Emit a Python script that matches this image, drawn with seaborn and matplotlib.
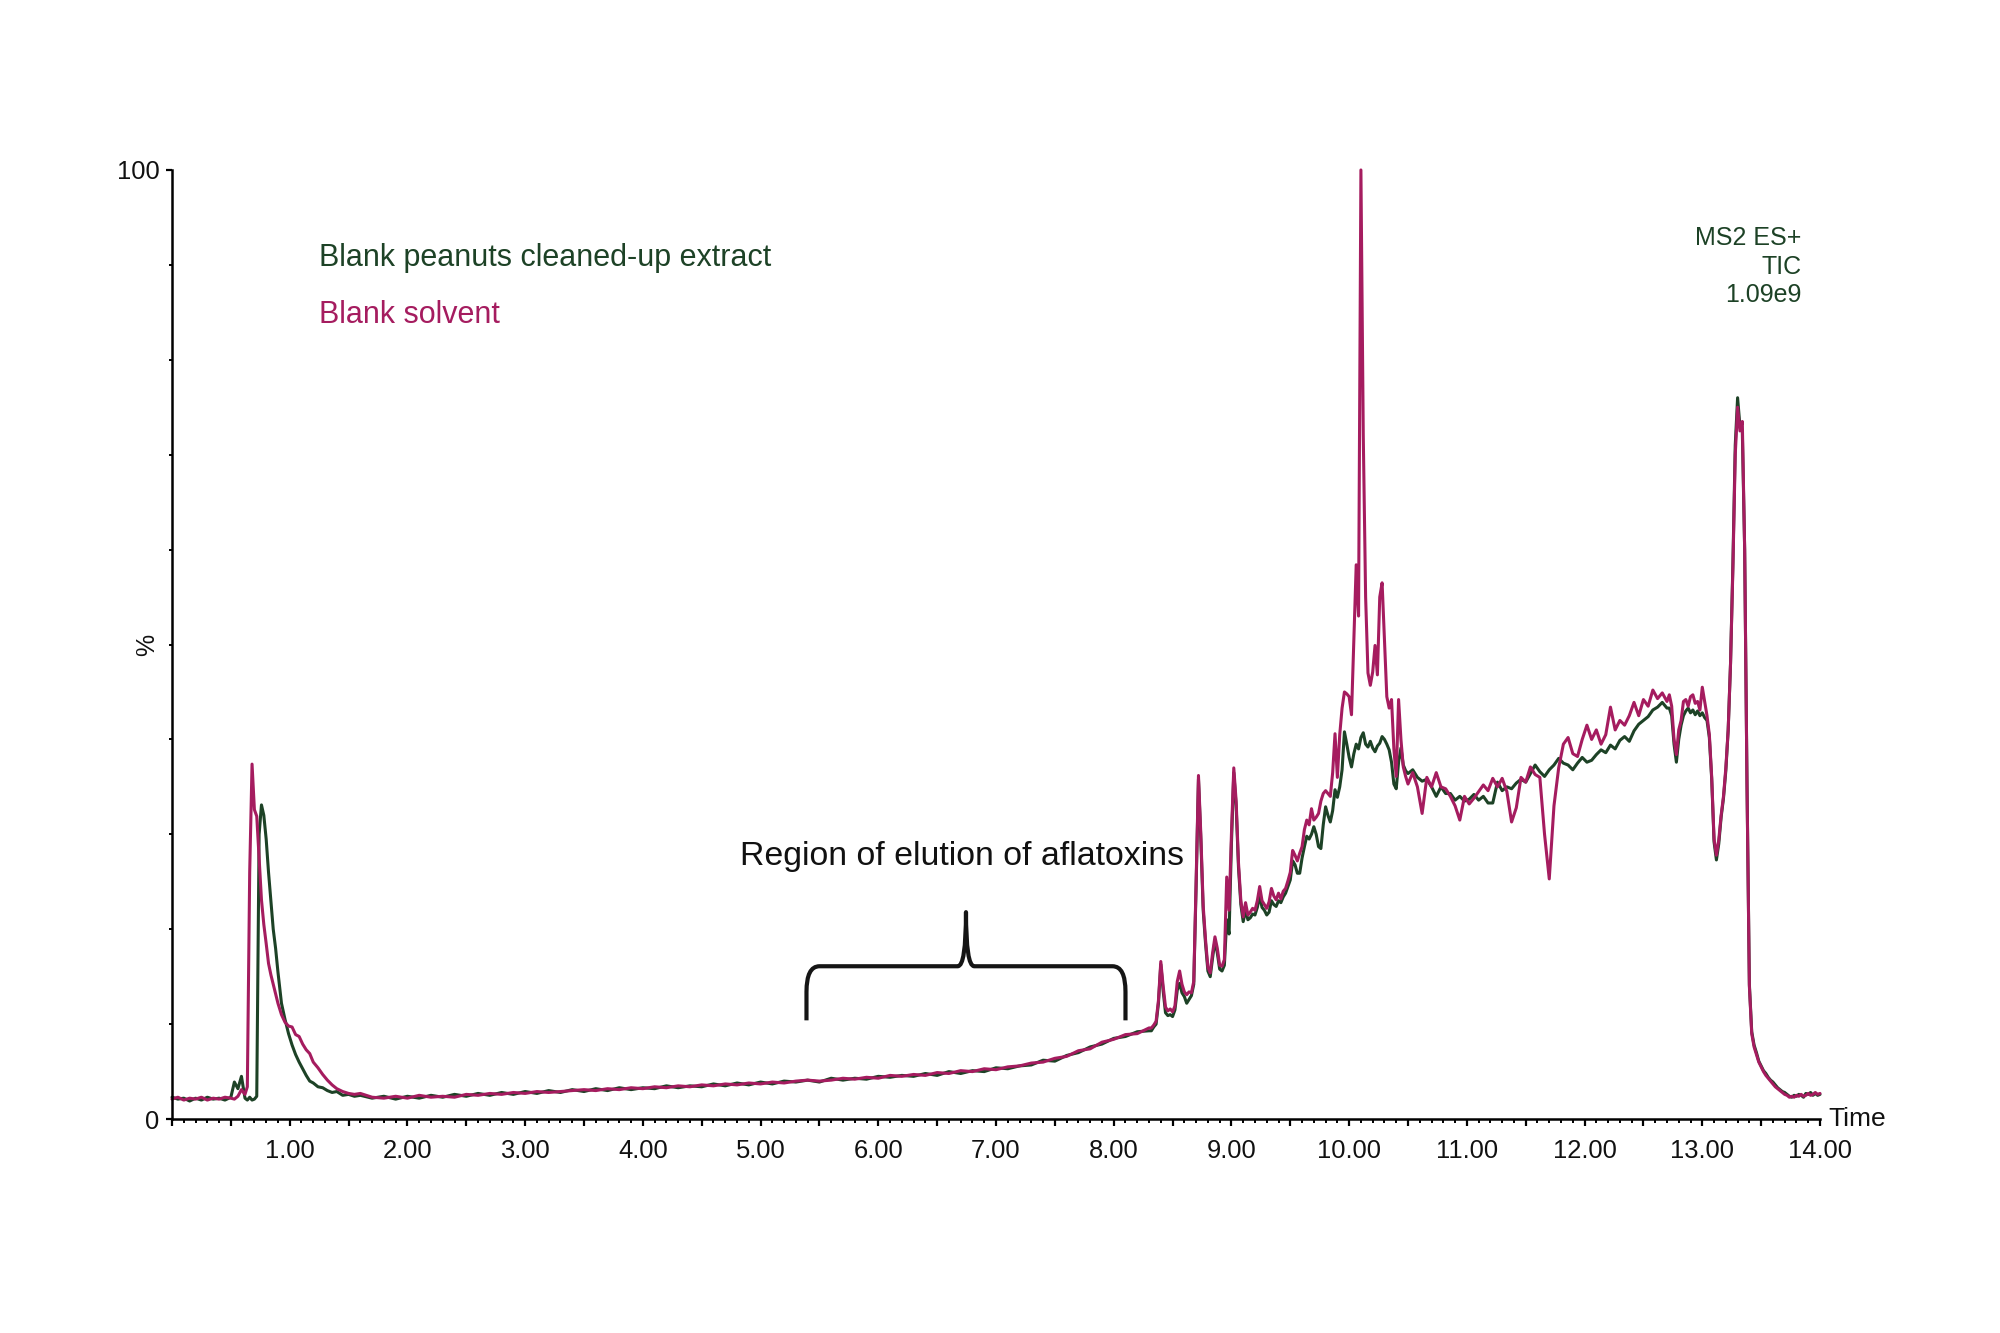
import matplotlib
matplotlib.use("Agg")
import matplotlib.pyplot as plt
from matplotlib.path import Path
from matplotlib.patches import PathPatch
from matplotlib.ticker import MultipleLocator, FuncFormatter
import pandas as pd
import seaborn as sns

# colours of the two traces
GREEN = "#1d4226"
MAGENTA = "#a51c5f"

# --- TIC traces (% of 1.09e9), one block per region ---
# injection / void peak
INJ_TIME = [0.00, 0.05, 0.10, 0.15, 0.20, 0.25, 0.30, 0.35, 0.40, 0.45,
            0.50, 0.53, 0.56, 0.59, 0.62, 0.64, 0.66, 0.68, 0.70, 0.72,
            0.74, 0.76, 0.78, 0.80, 0.82, 0.84, 0.86, 0.88, 0.90, 0.93,
            0.96, 0.99, 1.02, 1.05, 1.08, 1.11, 1.14, 1.17, 1.20, 1.24,
            1.28, 1.32, 1.36, 1.40, 1.45, 1.50, 1.55]
INJ_EXTRACT = [2.3, 2.1, 2.2, 1.9, 2.2, 2.0, 2.3, 2.1, 2.2, 2.0,
               2.3, 3.9, 3.2, 4.5, 2.2, 2.0, 2.3, 2.0, 2.1, 2.4,
               30.0, 33.1, 32.0, 29.5, 26.0, 23.0, 20.0, 18.0, 15.5, 12.2,
               10.5, 9.0, 7.8, 6.8, 6.0, 5.3, 4.6, 4.0, 3.8, 3.4,
               3.3, 3.0, 2.8, 2.9, 2.5, 2.6, 2.4]
INJ_SOLVENT = [2.1, 2.3, 2.0, 2.2, 2.1, 2.3, 2.0, 2.2, 2.1, 2.3,
               2.2, 2.1, 2.4, 3.1, 2.6, 3.4, 26.0, 37.4, 32.6, 31.9,
               27.5, 23.1, 20.5, 18.5, 16.4, 15.2, 14.2, 13.2, 12.2, 11.0,
               10.2, 9.8, 9.7, 8.9, 8.7, 7.9, 7.3, 6.9, 6.0, 5.4,
               4.7, 4.1, 3.6, 3.2, 2.9, 2.7, 2.6]

# slowly rising baseline
BASE_TIME = [1.6, 1.7, 1.8, 1.9, 2.0, 2.1, 2.2, 2.3, 2.4, 2.5,
             2.6, 2.7, 2.8, 2.9, 3.0, 3.1, 3.2, 3.3, 3.4, 3.5,
             3.6, 3.7, 3.8, 3.9, 4.0, 4.1, 4.2, 4.3, 4.4, 4.5,
             4.6, 4.7, 4.8, 4.9, 5.0, 5.1, 5.2, 5.3, 5.4, 5.5,
             5.6, 5.7, 5.8, 5.9, 6.0, 6.1, 6.2, 6.3, 6.4, 6.5,
             6.6, 6.7, 6.8, 6.9, 7.0, 7.1, 7.2, 7.3, 7.4, 7.5,
             7.6, 7.7, 7.8, 7.9, 8.0, 8.1, 8.2, 8.3]
BASE_EXTRACT = [2.5, 2.2, 2.4, 2.1, 2.4, 2.2, 2.5, 2.3, 2.6, 2.4,
                2.7, 2.5, 2.8, 2.6, 2.9, 2.7, 3.0, 2.8, 3.1, 2.9,
                3.2, 3.0, 3.3, 3.1, 3.3, 3.2, 3.5, 3.3, 3.5, 3.4,
                3.7, 3.5, 3.8, 3.6, 3.9, 3.7, 4.0, 3.9, 4.1, 3.9,
                4.3, 4.1, 4.3, 4.2, 4.5, 4.4, 4.6, 4.5, 4.8, 4.6,
                5.0, 4.8, 5.1, 5.0, 5.4, 5.3, 5.6, 5.7, 6.2, 6.1,
                6.7, 7.0, 7.6, 7.9, 8.5, 8.7, 9.2, 9.3]
BASE_SOLVENT = [2.7, 2.3, 2.2, 2.4, 2.2, 2.5, 2.3, 2.4, 2.3, 2.6,
                2.5, 2.7, 2.6, 2.8, 2.7, 2.9, 2.8, 2.9, 3.0, 3.1,
                3.0, 3.2, 3.1, 3.3, 3.2, 3.4, 3.3, 3.5, 3.4, 3.6,
                3.5, 3.7, 3.6, 3.8, 3.7, 3.9, 3.8, 4.0, 4.1, 4.0,
                4.1, 4.3, 4.2, 4.4, 4.3, 4.6, 4.5, 4.7, 4.6, 4.9,
                4.8, 5.1, 5.0, 5.3, 5.2, 5.5, 5.6, 5.9, 6.0, 6.4,
                6.6, 7.2, 7.4, 8.1, 8.4, 8.9, 9.0, 9.6]

# matrix peaks and the big 10.1 min peak
ELU_TIME = [8.32, 8.34, 8.36, 8.38, 8.40, 8.42, 8.44, 8.46, 8.48, 8.50,
            8.52, 8.54, 8.56, 8.58, 8.60, 8.62, 8.64, 8.66, 8.68, 8.70,
            8.72, 8.74, 8.76, 8.78, 8.80, 8.82, 8.84, 8.86, 8.88, 8.90,
            8.92, 8.94, 8.96, 8.98, 9.00, 9.02, 9.04, 9.06, 9.08, 9.10,
            9.12, 9.14, 9.16, 9.18, 9.20, 9.22, 9.24, 9.26, 9.28, 9.30,
            9.32, 9.34, 9.36, 9.38, 9.40, 9.42, 9.44, 9.46, 9.48, 9.50,
            9.52, 9.54, 9.56, 9.58, 9.60, 9.62, 9.64, 9.66, 9.68, 9.70,
            9.72, 9.74, 9.76, 9.78, 9.80, 9.82, 9.84, 9.86, 9.88, 9.90,
            9.92, 9.94, 9.96, 9.98, 10.00, 10.02, 10.04, 10.06, 10.08, 10.10,
            10.12, 10.14, 10.16, 10.18, 10.20, 10.22, 10.24, 10.26, 10.28, 10.30,
            10.32, 10.34, 10.36, 10.38, 10.40, 10.42, 10.44, 10.46, 10.48, 10.50]
ELU_EXTRACT = [9.3, 9.7, 10.0, 12.2, 16.3, 13.5, 11.2, 10.9, 11.0, 10.8,
               11.5, 13.6, 14.3, 13.3, 12.9, 12.2, 12.6, 13.0, 14.2, 24.5,
               35.8, 29.5, 22.0, 18.5, 15.6, 15.0, 17.0, 18.8, 17.5, 15.8,
               15.6, 16.2, 21.0, 19.5, 29.0, 36.5, 33.0, 26.5, 22.6, 20.8,
               22.0, 21.0, 21.2, 21.6, 21.5, 22.3, 23.5, 22.3, 22.0, 21.5,
               21.8, 23.0, 22.6, 22.4, 23.0, 22.8, 23.4, 23.8, 24.5, 25.2,
               27.2, 26.8, 25.9, 25.9, 27.5, 28.7, 29.8, 29.5, 30.0, 30.8,
               30.0, 28.7, 28.5, 31.0, 32.9, 32.0, 31.3, 32.5, 34.7, 33.9,
               35.0, 36.8, 40.8, 39.5, 38.1, 37.1, 38.5, 39.5, 39.0, 40.2,
               40.7, 39.5, 39.2, 39.8, 39.1, 38.7, 39.3, 39.6, 40.3, 40.0,
               39.5, 38.9, 37.6, 35.3, 34.8, 37.6, 39.1, 37.3, 36.7, 36.4]
ELU_SOLVENT = [9.6, 9.9, 10.3, 12.5, 16.6, 14.0, 11.8, 11.4, 11.6, 11.3,
               11.9, 14.5, 15.6, 14.2, 13.4, 13.1, 13.4, 13.3, 14.5, 25.0,
               36.2, 30.0, 22.5, 18.9, 16.0, 15.4, 17.5, 19.2, 18.0, 16.2,
               16.1, 16.8, 25.5, 22.0, 30.0, 37.0, 33.5, 27.0, 23.0, 21.3,
               22.8, 21.5, 21.8, 22.2, 22.0, 23.0, 24.5, 23.0, 22.6, 22.2,
               22.9, 24.3, 23.5, 23.1, 23.8, 23.2, 24.0, 24.3, 25.1, 26.0,
               28.3, 27.8, 27.2, 28.0, 28.7, 30.5, 31.5, 31.0, 32.7, 31.5,
               31.8, 32.2, 33.5, 34.3, 34.6, 34.3, 34.0, 36.5, 40.6, 36.0,
               40.5, 43.3, 45.0, 44.8, 44.5, 42.6, 50.4, 58.4, 53.0, 100.0,
               72.0, 55.0, 47.0, 45.7, 47.1, 49.9, 46.8, 55.0, 56.5, 50.4,
               44.5, 43.3, 44.2, 39.0, 36.1, 44.2, 40.0, 37.1, 36.1, 35.3]

# broad hump
PLAT_TIME = [10.54, 10.58, 10.62, 10.66, 10.70, 10.74, 10.78, 10.82, 10.86, 10.90,
             10.94, 10.98, 11.02, 11.06, 11.10, 11.14, 11.18, 11.22, 11.26, 11.30,
             11.34, 11.38, 11.42, 11.46, 11.50, 11.54, 11.58, 11.62, 11.66, 11.70,
             11.74, 11.78, 11.82, 11.86, 11.90, 11.94, 11.98, 12.02, 12.06, 12.10,
             12.14, 12.18, 12.22, 12.26, 12.30, 12.34, 12.38, 12.42, 12.46, 12.50,
             12.54, 12.58, 12.62, 12.66, 12.70]
PLAT_EXTRACT = [36.8, 36.0, 35.6, 35.8, 35.0, 34.0, 35.0, 34.3, 34.3, 33.6,
                34.0, 33.5, 33.7, 34.2, 33.6, 34.0, 33.3, 33.3, 35.5, 34.6,
                35.0, 34.8, 35.4, 35.8, 35.5, 36.4, 37.3, 36.6, 36.1, 36.8,
                37.3, 38.0, 37.5, 37.3, 36.8, 37.5, 38.1, 37.6, 37.8, 38.4,
                38.9, 38.6, 39.4, 39.0, 39.9, 40.3, 39.8, 40.9, 41.6, 42.0,
                42.4, 43.1, 43.4, 43.9, 43.3]
PLAT_SOLVENT = [36.5, 35.0, 32.2, 36.0, 35.0, 36.5, 35.0, 34.8, 34.0, 33.0,
                31.5, 34.0, 33.2, 33.8, 34.5, 35.2, 34.6, 35.9, 35.0, 35.9,
                34.5, 31.3, 32.8, 36.0, 35.5, 37.1, 36.3, 36.0, 30.0, 25.3,
                33.0, 37.0, 39.5, 40.2, 38.5, 38.2, 40.0, 41.5, 40.0, 41.0,
                39.5, 40.5, 43.4, 41.0, 42.0, 41.5, 42.5, 43.9, 42.5, 44.2,
                43.5, 45.2, 44.3, 44.9, 44.0]

# wash peak and re-equilibration
WASH_TIME = [12.72, 12.74, 12.76, 12.78, 12.80, 12.82, 12.84, 12.86, 12.88, 12.90,
             12.92, 12.94, 12.96, 12.98, 13.00, 13.02, 13.04, 13.06, 13.08, 13.10,
             13.12, 13.14, 13.16, 13.18, 13.20, 13.22, 13.24, 13.26, 13.28, 13.30,
             13.32, 13.34, 13.36, 13.38, 13.40, 13.42, 13.44, 13.46, 13.48, 13.50,
             13.52, 13.54, 13.56, 13.58, 13.60, 13.62, 13.64, 13.66, 13.68, 13.70,
             13.72, 13.74, 13.76, 13.78, 13.80, 13.82, 13.84, 13.86, 13.88, 13.90,
             13.92, 13.94, 13.96, 13.98, 14.00]
WASH_EXTRACT = [43.3, 42.5, 39.5, 37.6, 40.0, 41.5, 42.5, 43.0, 43.3, 42.8,
                43.1, 42.6, 43.0, 42.5, 42.8, 42.3, 42.0, 40.2, 35.8, 29.2,
                27.3, 29.0, 31.8, 33.8, 36.7, 41.0, 48.0, 58.5, 71.0, 76.0,
                73.0, 72.5, 60.0, 35.2, 14.2, 9.2, 7.8, 7.0, 6.1, 5.6,
                5.1, 4.8, 4.4, 4.1, 3.9, 3.6, 3.3, 3.1, 2.9, 2.8,
                2.6, 2.4, 2.3, 2.5, 2.4, 2.6, 2.5, 2.3, 2.7, 2.6,
                2.8, 2.5, 2.7, 2.5, 2.6]
WASH_SOLVENT = [44.7, 43.5, 40.0, 38.4, 41.0, 42.0, 44.0, 44.2, 43.5, 44.5,
                44.7, 43.8, 44.0, 43.1, 45.5, 44.0, 42.5, 40.5, 36.0, 29.5,
                27.8, 29.4, 32.0, 34.0, 37.0, 41.0, 48.0, 58.0, 70.0, 75.0,
                72.5, 73.5, 60.0, 35.0, 14.0, 9.0, 7.6, 6.8, 6.0, 5.5,
                5.0, 4.6, 4.3, 4.0, 3.7, 3.4, 3.2, 3.0, 2.8, 2.6,
                2.5, 2.3, 2.4, 2.3, 2.5, 2.4, 2.6, 2.4, 2.5, 2.7,
                2.5, 2.6, 2.8, 2.6, 2.7]

SAMPLES = ["Blank peanuts cleaned-up extract", "Blank solvent"]
HEADER = ["MS2 ES+", "TIC", "1.09e9"]
REGION_LABEL = "Region of elution of aflatoxins"
REGION_START, REGION_END = 5.39, 8.10   # min, span of the brace

time = INJ_TIME + BASE_TIME + ELU_TIME + PLAT_TIME + WASH_TIME
extract = INJ_EXTRACT + BASE_EXTRACT + ELU_EXTRACT + PLAT_EXTRACT + WASH_EXTRACT
solvent = INJ_SOLVENT + BASE_SOLVENT + ELU_SOLVENT + PLAT_SOLVENT + WASH_SOLVENT

df = pd.DataFrame({
    "Time": time + time,
    "Intensity": extract + solvent,
    "Sample": [SAMPLES[0]] * len(time) + [SAMPLES[1]] * len(time),
})

sns.set_theme(style="ticks")
plt.rcParams["font.family"] = ["Liberation Sans", "DejaVu Sans"]

fig = plt.figure(figsize=(10, 6.665), dpi=200)
ax = fig.add_axes([0.086, 0.1605, 0.824, 0.712])

sns.lineplot(data=df, x="Time", y="Intensity", hue="Sample", hue_order=SAMPLES,
             palette=[GREEN, MAGENTA], estimator=None, sort=False,
             linewidth=1.1, legend=False, ax=ax)
for line in ax.lines:
    line.set_clip_on(False)

ax.set_xlim(0, 14)
ax.set_ylim(0, 100)
ax.set_xlabel("")
ax.set_ylabel("")
sns.despine(ax=ax)
for side in ["left", "bottom"]:
    ax.spines[side].set_color("black")
    ax.spines[side].set_linewidth(0.9)

# x: tick every 0.5, small ones every 0.1, labels on whole minutes
ax.xaxis.set_major_locator(MultipleLocator(0.5))
ax.xaxis.set_minor_locator(MultipleLocator(0.1))
ax.xaxis.set_major_formatter(FuncFormatter(
    lambda v, p: f"{v:.2f}" if v > 0.5 and abs(v - round(v)) < 1e-6 else ""))
ax.tick_params(axis="x", which="major", length=2.6, width=0.8, color="black",
               labelsize=9.2, pad=4.5, labelcolor="#111111")
ax.tick_params(axis="x", which="minor", length=1.5, width=0.7, color="black")

ax.set_yticks([0, 100])
ax.set_yticklabels(["0", "100"])
ax.yaxis.set_minor_locator(MultipleLocator(10))
ax.tick_params(axis="y", which="major", length=2.0, width=0.8, color="black",
               labelsize=9.2, pad=2.5, labelcolor="#111111")
ax.tick_params(axis="y", which="minor", length=1.2, width=0.7, color="black")

ax.text(-0.0152, 0.5, "%", rotation=90, transform=ax.transAxes,
        ha="center", va="center", fontsize=9, color="#111111")
ax.text(1.005, 0.0, "Time", transform=ax.transAxes, ha="left", va="center",
        fontsize=9.5, color="#111111")

# legend-style labels
ax.text(0.089, 0.907, SAMPLES[0], transform=ax.transAxes, ha="left", va="center",
        fontsize=11, color=GREEN)
ax.text(0.089, 0.847, SAMPLES[1], transform=ax.transAxes, ha="left", va="center",
        fontsize=11, color=MAGENTA)
for label, ypos in zip(HEADER, [0.928, 0.898, 0.868]):
    ax.text(0.989, ypos, label, transform=ax.transAxes, ha="right", va="center",
            fontsize=9, color=GREEN)

# curly brace over the aflatoxin window
mid = (REGION_START + REGION_END) / 2
low, bar, tip = 10.4, 16.1, 21.8
verts = [
    (REGION_START, low), (REGION_START, 13.4),
    (REGION_START, bar), (REGION_START + 0.11, bar),
    (mid - 0.07, bar),
    (mid, bar), (mid, tip),
    (mid, bar), (mid + 0.07, bar),
    (REGION_END - 0.11, bar),
    (REGION_END, bar), (REGION_END, 13.4),
    (REGION_END, low),
]
codes = [Path.MOVETO, Path.LINETO,
         Path.CURVE3, Path.CURVE3,
         Path.LINETO,
         Path.CURVE3, Path.CURVE3,
         Path.CURVE3, Path.CURVE3,
         Path.LINETO,
         Path.CURVE3, Path.CURVE3,
         Path.LINETO]
ax.add_patch(PathPatch(Path(verts, codes), fill=False, lw=1.5, color="#151515",
                       capstyle="butt", joinstyle="round"))
ax.text(mid - 0.03, 27.7, REGION_LABEL, ha="center", va="center", fontsize=12.2,
        color="#111111")

fig.savefig("out.png", dpi=200, facecolor="white")
